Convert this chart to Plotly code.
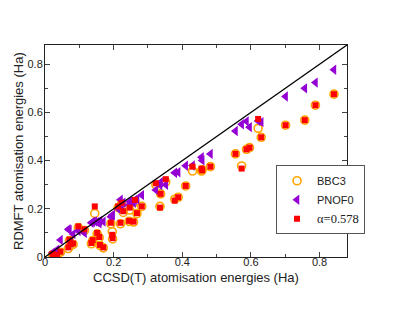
import plotly.graph_objects as go

ccsdt = [0.022, 0.035, 0.045, 0.068, 0.071, 0.075, 0.082, 0.097, 0.115, 0.135,
         0.139, 0.145, 0.152, 0.158, 0.160, 0.170, 0.192, 0.196, 0.197, 0.213,
         0.220, 0.223, 0.228, 0.245, 0.247, 0.258, 0.262, 0.268, 0.282, 0.323,
         0.335, 0.337, 0.352, 0.378, 0.388, 0.410, 0.430, 0.456, 0.458, 0.482,
         0.555, 0.573, 0.587, 0.596, 0.621, 0.630, 0.701, 0.757, 0.788, 0.842]
bbc3 = [0.010, 0.005, 0.020, 0.035, 0.068, 0.050, 0.052, 0.122, 0.110, 0.055,
        0.068, 0.181, 0.096, 0.080, 0.048, 0.038, 0.138, 0.105, 0.075, 0.205,
        0.138, 0.220, 0.185, 0.148, 0.195, 0.145, 0.228, 0.180, 0.210, 0.300,
        0.210, 0.262, 0.312, 0.240, 0.248, 0.295, 0.357, 0.357, 0.362, 0.375,
        0.428, 0.378, 0.447, 0.454, 0.534, 0.497, 0.547, 0.568, 0.630, 0.676]
pnof0 = [0.018, 0.030, 0.071, 0.115, 0.112, 0.060, 0.095, 0.108, 0.100, 0.142,
         0.145, 0.148, 0.145, 0.140, 0.150, 0.147, 0.167, 0.172, 0.175, 0.200,
         0.238, 0.210, 0.225, 0.216, 0.230, 0.225, 0.237, 0.240, 0.257, 0.278,
         0.299, 0.310, 0.300, 0.350, 0.352, 0.379, 0.380, 0.414, 0.401, 0.428,
         0.523, 0.551, 0.563, 0.539, 0.565, 0.560, 0.666, 0.700, 0.724, 0.777]
alpha = [0.012, 0.008, 0.022, 0.040, 0.072, 0.055, 0.056, 0.127, 0.115, 0.058,
         0.070, 0.210, 0.100, 0.083, 0.050, 0.040, 0.142, 0.092, 0.078, 0.210,
         0.142, 0.225, 0.190, 0.150, 0.205, 0.147, 0.237, 0.182, 0.210, 0.306,
         0.205, 0.262, 0.323, 0.234, 0.248, 0.295, 0.375, 0.367, 0.360, 0.375,
         0.428, 0.367, 0.447, 0.454, 0.573, 0.497, 0.547, 0.568, 0.630, 0.676]

x_title = "CCSD(T) atomisation energies (Ha)"
y_title = "RDMFT atomisation energies (Ha)"
axis_max = 0.88
font = "Liberation Sans, Arial, sans-serif"

fig = go.Figure()
fig.add_trace(go.Scatter(x=ccsdt, y=bbc3, mode="markers", name="BBC3",
                         marker=dict(symbol="circle-open", size=8, color="#FFA500",
                                     line=dict(width=1.6, color="#FFA500"))))
fig.add_trace(go.Scatter(x=ccsdt, y=pnof0, mode="markers", name="PNOF0",
                         marker=dict(symbol="triangle-left", size=9, color="#9400D3",
                                     line=dict(width=0))))
fig.add_trace(go.Scatter(x=ccsdt, y=alpha, mode="markers",
                         name='<span style="font-family:Liberation Serif, Times New Roman, serif;font-size:12.5px">α=0.578</span>',
                         marker=dict(symbol="square", size=6, color="#FF0000",
                                     line=dict(width=0))))

fig.add_shape(type="line", xref="x", yref="y", x0=0, y0=0, x1=axis_max, y1=axis_max,
              line=dict(color="black", width=1.3), layer="above")

axis_common = dict(range=[0, axis_max], showline=True, linecolor="#222", linewidth=1,
                   mirror="ticks", ticks="inside", ticklen=5, tickcolor="#444",
                   showgrid=False, zeroline=False, automargin=False,
                   tickfont=dict(size=11, color="#222", family=font),
                   tickvals=[0, 0.2, 0.4, 0.6, 0.8], ticktext=["0", "0.2", "0.4", "0.6", "0.8"],
                   minor=dict(ticks="inside", ticklen=3, tickvals=[0.1, 0.3, 0.5, 0.7],
                              tickcolor="#444", showgrid=False))

fig.update_xaxes(**axis_common, ticklabelstandoff=-5)
fig.update_yaxes(**axis_common, ticklabelstandoff=-1)

fig.add_annotation(text=x_title, xref="paper", yref="paper", x=0.5, y=0,
                   xanchor="center", yanchor="middle", yshift=-20, showarrow=False,
                   font=dict(size=13, color="#222", family=font))
fig.add_annotation(text=y_title, xref="paper", yref="paper", x=0, y=0.5,
                   xanchor="center", yanchor="middle", xshift=-27, textangle=-90,
                   showarrow=False, font=dict(size=13, color="#222", family=font))

fig.update_layout(
    width=387, height=296,
    margin=dict(l=37, r=48, t=37, b=47),
    plot_bgcolor="white", paper_bgcolor="white",
    font=dict(family=font, size=11, color="#222"),
    legend=dict(x=0.765, y=0.27, xanchor="left", yanchor="middle",
                bgcolor="white", bordercolor="#555", borderwidth=1,
                font=dict(size=11, family=font, color="#222"),
                tracegroupgap=0, itemwidth=30),
)

fig.write_html("out.html")
